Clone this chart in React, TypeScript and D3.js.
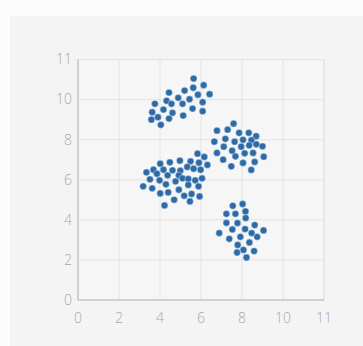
import React from "react";
import * as d3 from "d3";

const clusterTopX = [5.64, 6.13, 5.20, 5.62, 4.44, 6.42, 5.85, 4.89, 5.44, 4.32, 3.75, 4.56, 5.10, 6.08, 4.17, 3.62, 4.61, 5.59, 6.08, 5.13, 3.90, 4.44, 3.58, 4.04];
const clusterTopY = [11.05, 10.72, 10.45, 10.59, 10.35, 10.27, 10.24, 10.09, 10.02, 9.94, 9.79, 9.79, 9.79, 9.87, 9.50, 9.37, 9.34, 9.55, 9.42, 9.20, 9.12, 9.05, 9.00, 8.74];

const clusterRightX = [7.59, 6.78, 7.30, 7.86, 8.33, 8.69, 6.65, 7.19, 7.64, 8.05, 8.46, 8.35, 7.96, 8.70, 9.00, 7.11, 7.52, 8.13, 8.54, 6.78, 7.68, 9.06, 7.08, 8.05, 8.62, 7.48, 8.45];
const clusterRightY = [8.80, 8.45, 8.50, 8.34, 8.34, 8.17, 7.90, 8.04, 7.90, 7.99, 7.97, 7.72, 7.65, 7.77, 7.67, 7.65, 7.45, 7.32, 7.34, 7.34, 7.17, 7.15, 7.00, 6.84, 6.89, 6.67, 6.49];

const clusterBottomX = [8.03, 7.55, 8.17, 7.24, 7.68, 8.18, 7.24, 7.78, 8.15, 7.53, 8.62, 6.89, 8.47, 9.05, 8.74, 7.92, 7.38, 8.36, 7.79, 8.07, 8.59, 7.76, 8.22];
const clusterBottomY = [4.79, 4.70, 4.42, 4.30, 4.30, 4.09, 3.85, 3.84, 3.54, 3.52, 3.74, 3.34, 3.34, 3.47, 3.15, 3.15, 3.05, 2.87, 2.75, 2.50, 2.44, 2.37, 2.12];

const clusterLeftX = [5.83, 6.16, 4.01, 4.48, 4.97, 5.49, 5.90, 6.31, 3.34, 3.68, 3.85, 4.17, 4.61, 4.99, 5.33, 5.64, 5.98, 4.37, 4.92, 3.51, 3.98, 4.76, 5.10, 5.38, 5.72, 6.05, 3.18, 3.62, 4.29, 5.38, 5.88, 4.92, 4.01, 4.40, 5.18, 5.54, 5.93, 4.69, 5.46, 4.22];
const clusterLeftY = [7.30, 7.14, 6.80, 6.87, 6.95, 6.92, 6.85, 6.74, 6.37, 6.50, 6.30, 6.50, 6.47, 6.45, 6.64, 6.55, 6.50, 6.22, 6.22, 6.02, 5.97, 5.92, 6.07, 6.04, 5.97, 6.07, 5.67, 5.57, 5.77, 5.74, 5.67, 5.50, 5.32, 5.37, 5.20, 5.29, 5.17, 5.00, 4.92, 4.72];

const tickValues = [0, 2, 4, 6, 8, 10, 12];
const tickLabels = ["0", "2", "4", "6", "8", "10", "11"];

const W = 363;
const H = 346;
const margin = { left: 78, right: 39, top: 59.5, bottom: 46 };

export default function App() {
  const x = d3.scaleLinear().domain([0, 12]).range([margin.left, W - margin.right]);
  const y = d3.scaleLinear().domain([0, 12]).range([H - margin.bottom, margin.top]);

  const points: { x: number; y: number }[] = [];
  const add = (xs: number[], ys: number[]) => xs.forEach((v, i) => points.push({ x: v, y: ys[i] }));
  add(clusterTopX, clusterTopY);
  add(clusterRightX, clusterRightY);
  add(clusterBottomX, clusterBottomY);
  add(clusterLeftX, clusterLeftY);

  const x0 = x(0), x1 = x(12), y0 = y(0), y1 = y(12);
  const font = "'Open Sans', 'Liberation Sans', Arial, sans-serif";

  return (
    <svg width={W} height={H} style={{ position: "absolute", left: 0, top: 0 }}>
      <rect x={0} y={0} width={W} height={H} fill="#fcfcfc" />
      <rect x={10} y={16} width={W - 10} height={H - 16} fill="#f4f4f4" />
      <rect x={x0} y={y1} width={x1 - x0} height={y0 - y1} fill="#f6f6f6" stroke="#e2e2e2" strokeWidth={1} />
      {tickValues.map((t) => (
        <g key={"g" + t}>
          <line x1={x(t)} x2={x(t)} y1={y1} y2={y0} stroke="#e4e4e4" strokeWidth={1} />
          <line x1={x0} x2={x1} y1={y(t)} y2={y(t)} stroke="#e4e4e4" strokeWidth={1} />
        </g>
      ))}
      <line x1={x0} x2={x0} y1={y1} y2={y0} stroke="#c9c9c9" strokeWidth={1.5} />
      <line x1={x0} x2={x1} y1={y0} y2={y0} stroke="#c9c9c9" strokeWidth={1.5} />
      {tickValues.map((t, i) => (
        <text key={"xl" + t} x={x(t)} y={y0 + 23} textAnchor="middle" fontFamily={font} fontWeight={300} fontSize={14} fill="#a8a8a8">
          {tickLabels[i]}
        </text>
      ))}
      {tickValues.map((t, i) => (
        <text key={"yl" + t} x={x0 - 6} y={y(t)} dy="0.35em" textAnchor="end" fontFamily={font} fontWeight={300} fontSize={14} fill="#a8a8a8">
          {tickLabels[i]}
        </text>
      ))}
      {points.map((p, i) => (
        <circle key={i} cx={x(p.x)} cy={y(p.y)} r={3.4} fill="#2d6aa6" stroke="#cfe2f3" strokeOpacity={0.6} strokeWidth={0.8} />
      ))}
    </svg>
  );
}
